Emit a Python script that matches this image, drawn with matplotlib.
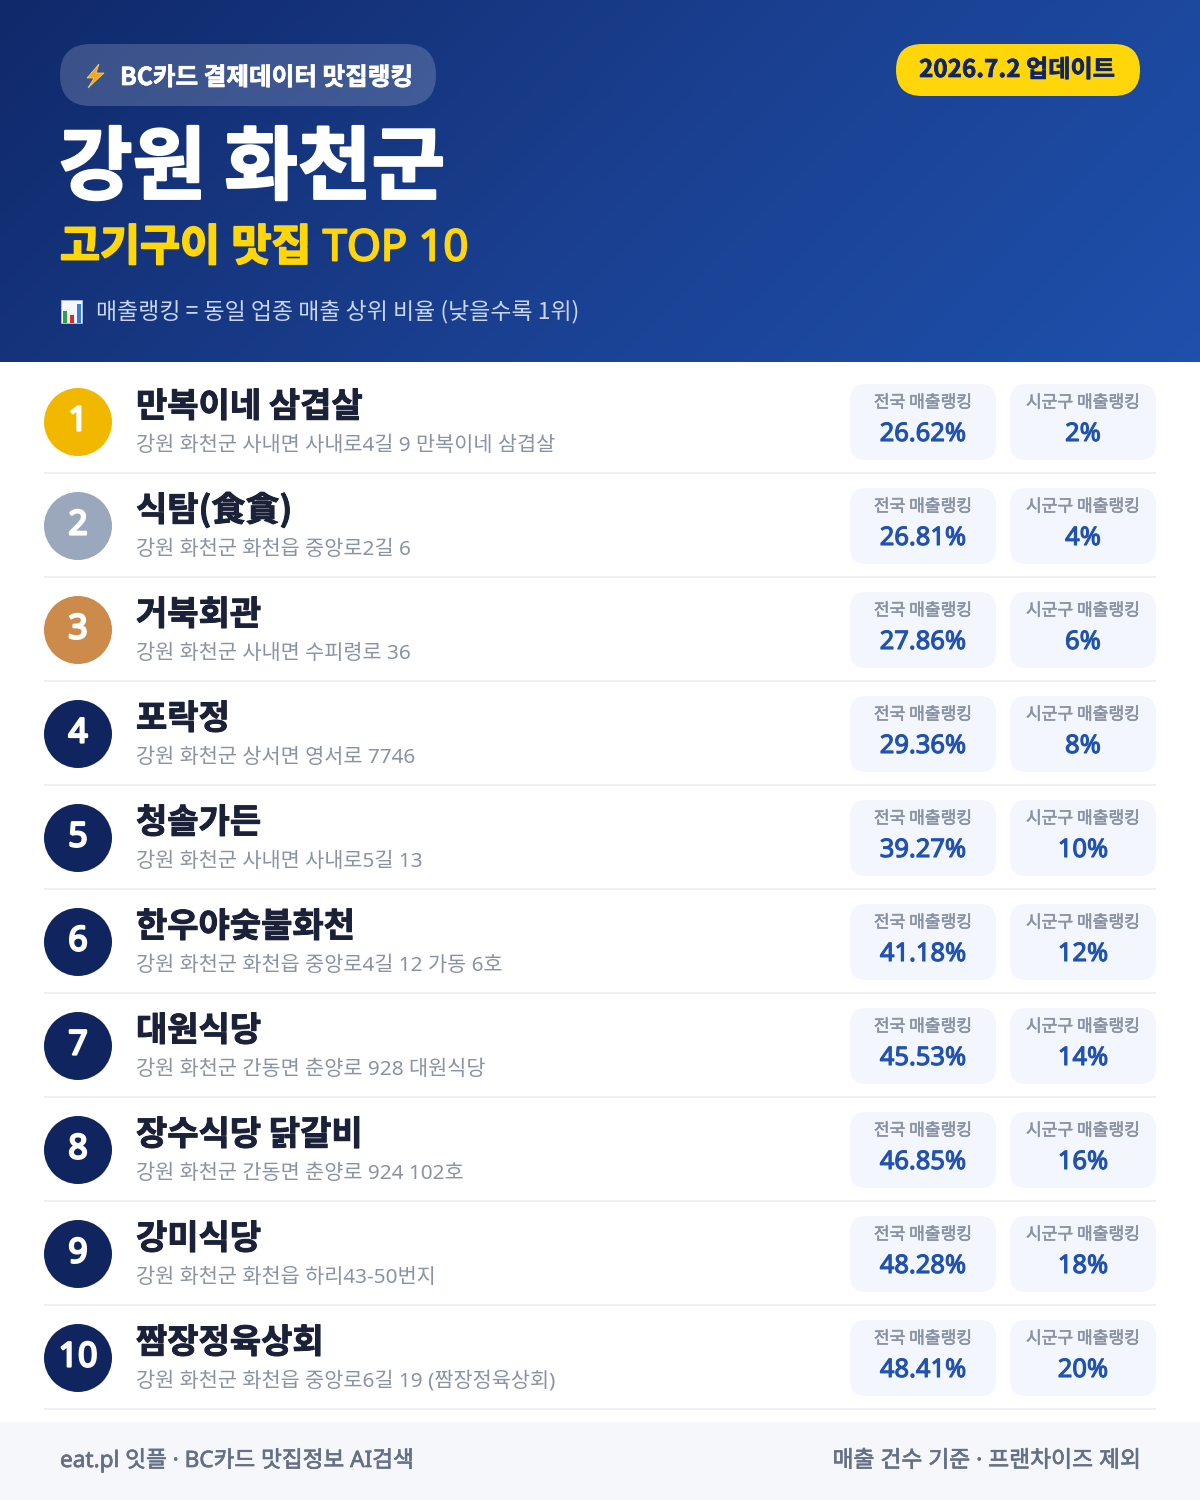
import numpy as np
import matplotlib
matplotlib.use('Agg')
import matplotlib.pyplot as plt
import matplotlib.patheffects as pe
from matplotlib.patches import FancyBboxPatch, Circle, Polygon, Rectangle
from matplotlib.colors import LinearSegmentedColormap

cjk = ['Noto Sans CJK KR', 'DejaVu Sans']
mix = ['Noto Sans', 'Noto Sans CJK KR', 'DejaVu Sans']
plt.rcParams['font.family'] = mix

names = ['만복이네 삼겹살', '식탐(食貪)', '거북회관', '포락정', '청솔가든', '한우야숯불화천',
         '대원식당', '장수식당 닭갈비', '강미식당', '짬장정육상회']
addrs = ['강원 화천군 사내면 사내로4길 9 만복이네 삼겹살',
         '강원 화천군 화천읍 중앙로2길 6',
         '강원 화천군 사내면 수피령로 36',
         '강원 화천군 상서면 영서로 7746',
         '강원 화천군 사내면 사내로5길 13',
         '강원 화천군 화천읍 중앙로4길 12 가동 6호',
         '강원 화천군 간동면 춘양로 928 대원식당',
         '강원 화천군 간동면 춘양로 924 102호',
         '강원 화천군 화천읍 하리43-50번지',
         '강원 화천군 화천읍 중앙로6길 19 (짬장정육상회)']
national = [26.62, 26.81, 27.86, 29.36, 39.27, 41.18, 45.53, 46.85, 48.28, 48.41]
local = [2, 4, 6, 8, 10, 12, 14, 16, 18, 20]
medal = ['#F2B800', '#9AA7BD', '#CC8B4A']
navy = '#10245F'
blue = '#2152AD'


def px(s):
    return s * 0.72


def fat(w, c):
    return [pe.withStroke(linewidth=w, foreground=c)]


fig = plt.figure(figsize=(12, 15), dpi=100)
ax = fig.add_axes([0, 0, 1, 1])
ax.set_xlim(0, 1200)
ax.set_ylim(1500, 0)
ax.axis('off')

# header gradient
gx, gy = np.meshgrid(np.linspace(0, 1, 300), np.linspace(0, 1, 90))
grad = (gx * 1200 + gy * 362) / (1200 + 362)
cm = LinearSegmentedColormap.from_list('hd', ['#10296A', '#1A3F8F', '#1E50AC'])
ax.imshow(grad, extent=[0, 1200, 362, 0], cmap=cm, aspect='auto', zorder=0)
ax.set_xlim(0, 1200)
ax.set_ylim(1500, 0)


def rbox(x0, y0, x1, y1, r, **kw):
    ax.add_patch(FancyBboxPatch((x0 + r, y0 + r), x1 - x0 - 2 * r, y1 - y0 - 2 * r,
                                boxstyle='round,pad=%g,rounding_size=%g' % (r, r),
                                linewidth=0, **kw))


rbox(60, 44, 436, 106, 31, fc='white', alpha=0.18, zorder=1)
rbox(896, 44, 1140, 96, 26, fc='#FFD60A', zorder=1)

# lightning icon
ax.add_patch(Polygon([(99, 64), (87, 78), (94, 78), (88, 88), (104, 73), (96, 73)],
                     closed=True, fc='#F5A623', ec='#FFD95A', lw=0.5, zorder=2))
ax.text(120, 85, 'BC카드 결제데이터 맛집랭킹', color='white', fontsize=px(24.6), weight='bold', zorder=3,
        family=cjk, path_effects=fat(0.5, 'white'))
ax.text(1017, 77, '2026.7.2 업데이트', color=navy, fontsize=px(24.2), weight='bold', ha='center', zorder=3,
        family=cjk, path_effects=fat(0.5, navy))
ax.text(59, 193, '강원 화천군', color='white', fontsize=px(80), weight='black', zorder=3,
        family=cjk, path_effects=fat(1.6, 'white'))
ax.text(60, 260.5, '고기구이 맛집 TOP 10', color='#FFD60A', fontsize=px(43.5), weight='bold', zorder=3,
        path_effects=fat(1.4, '#FFD60A'))

# chart icon
ax.add_patch(Rectangle((61, 300), 21, 23, fc='#F4F6FA', ec='#B8C4D8', lw=0.5, zorder=2))
ax.add_patch(Rectangle((63, 311), 4, 12, fc='#2E9E4F', lw=0, zorder=3))
ax.add_patch(Rectangle((70, 315), 4, 8, fc='#D62C2C', lw=0, zorder=3))
ax.add_patch(Rectangle((77, 304), 4, 19, fc='#3A7BD5', lw=0, zorder=3))
ax.text(96, 318.5, '매출랭킹 = 동일 업종 매출 상위 비율 (낮을수록 1위)', color='#C9D6EE', fontsize=px(22.9),
        family=cjk, zorder=3)

# rows
for i in range(10):
    dy = 104 * i
    c = medal[i] if i < 3 else navy
    ax.add_patch(Circle((78, 422 + dy), 34, fc=c, lw=0, zorder=2))
    ax.text(78, 430.5 + dy, str(i + 1), color='white', fontsize=px(34), weight='bold', ha='center', zorder=3,
            path_effects=fat(1.6, 'white'))
    ax.text(136, 417 + dy, names[i], color='#1A2138', fontsize=px(34), weight='bold', zorder=3,
            family=cjk, path_effects=fat(0.7, '#1A2138'))
    ax.text(136, 451 + dy, addrs[i], color='#8A93A3', fontsize=px(20.8), zorder=3)
    rbox(850, 384 + dy, 996, 460 + dy, 16, fc='#F3F6FC', zorder=1)
    rbox(1010, 384 + dy, 1156, 460 + dy, 16, fc='#F3F6FC', zorder=1)
    ax.text(923, 407.5 + dy, '전국 매출랭킹', color='#8A93A3', fontsize=px(17.1), weight='medium', ha='center', zorder=3,
            family=cjk, path_effects=fat(0.4, '#8A93A3'))
    ax.text(1083, 407.5 + dy, '시군구 매출랭킹', color='#8A93A3', fontsize=px(17.1), weight='medium', ha='center', zorder=3,
            family=cjk, path_effects=fat(0.4, '#8A93A3'))
    ax.text(923, 441 + dy, '%.2f%%' % national[i], color=blue, fontsize=px(25.5), weight='bold', ha='center', zorder=3,
            path_effects=fat(0.8, blue))
    ax.text(1083, 441 + dy, '%d%%' % local[i], color=blue, fontsize=px(25.5), weight='bold', ha='center', zorder=3,
            path_effects=fat(0.8, blue))
    ax.add_patch(Rectangle((44, 472 + dy), 1112, 2, fc='#EDEFF2', lw=0, zorder=1))

# footer
ax.add_patch(Rectangle((0, 1422), 1200, 78, fc='#F5F7FA', lw=0, zorder=1))
ax.text(60, 1467, 'eat.pl 잇플 · BC카드 맛집정보 AI검색', color='#667085', fontsize=px(22.6), weight='medium', zorder=3,
        path_effects=fat(0.5, '#667085'))
ax.text(1141, 1467, '매출 건수 기준 · 프랜차이즈 제외', color='#667085', fontsize=px(22.8), weight='medium', ha='right', zorder=3,
        path_effects=fat(0.5, '#667085'))

fig.savefig('out.png', dpi=100)
